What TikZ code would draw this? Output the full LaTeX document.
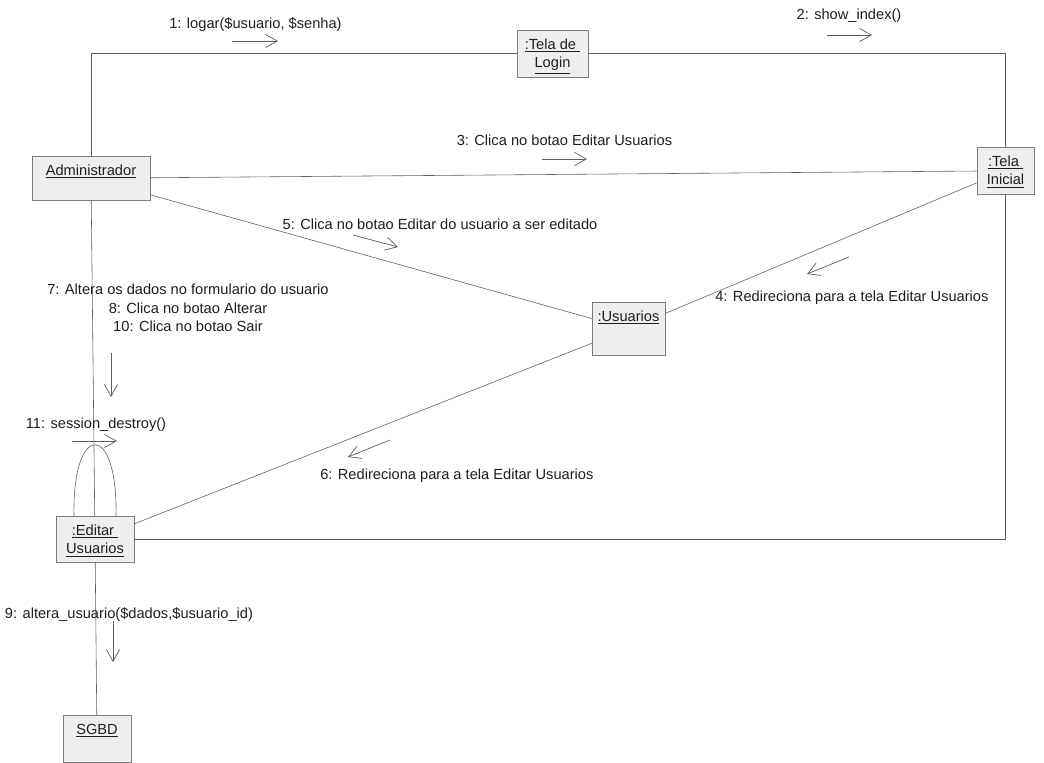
\documentclass[tikz,border=0pt]{standalone}
\usepackage{fontspec}
\setmainfont{Liberation Sans}
\usetikzlibrary{arrows.meta,calc}
\definecolor{ink}{RGB}{30,30,30}
\definecolor{soft}{RGB}{238,238,238}
\definecolor{edge}{RGB}{125,125,125}
\definecolor{wire}{RGB}{95,95,95}
\tikzset{
  obj/.style={draw=edge,fill=soft,anchor=north,inner xsep=0pt,inner ysep=3pt,
    text height=10pt,font=\fontsize{10}{12.6}\selectfont,text=ink},
  lbl/.style={inner sep=0pt,anchor=base,font=\fontsize{10}{12.6}\selectfont,text=ink},
  link/.style={draw=wire,line width=0.4pt},
  msg/.style={-{Straight Barb[length=8pt,width=9pt]},wire,line width=0.5pt},
}
\newcommand{\objn}[1]{\underline{#1}}
\newcommand{\twoln}[2]{\begin{tabular}[t]{@{}c@{}}\objn{#1}\\\objn{#2}\end{tabular}}

\begin{document}
\begin{tikzpicture}[x=0.024cm,y=-0.024cm]
  \useasboundingbox (0,0) rectangle (1044,763);

  % objects
  \node[obj,minimum width=2.83cm,text depth=14pt] (adm) at (91,156) {\objn{Administrador}};
  \node[obj,minimum width=1.70cm,text depth=16.1pt] (login) at (552.5,30) {\twoln{:Tela de\ }{Login}};
  \node[obj,minimum width=1.37cm,text depth=16.1pt] (inicial) at (1005.5,147) {\twoln{:Tela\ }{Inicial}};
  \node[obj,minimum width=1.75cm,text depth=20.2pt] (usr) at (628.5,302) {\objn{:Usuarios}};
  \node[obj,minimum width=1.87cm,text depth=15.4pt] (edit) at (95,516) {\twoln{:Editar\ }{Usuarios}};
  \node[obj,minimum width=1.63cm,text depth=16.1pt] (sgbd) at (97,715) {\objn{SGBD}};

  % links
  \draw[link] (adm) |- (login);
  \draw[link] (login) -| (inicial);
  \draw[link] (adm) -- (inicial);
  \draw[link] (adm) -- (usr);
  \draw[link] (usr) -- (inicial);
  \draw[link] (usr) -- (edit);
  \draw[link] (edit) -| (inicial);
  \draw[link] (adm) -- (edit);
  \draw[link] (edit) -- (sgbd);
  \draw[link] ($(edit.north)+(-21,0)$) .. controls +(-2,-95) and +(2,-95) .. ($(edit.north)+(21,0)$);

  % messages
  \node[lbl] (l1) at (255.5,29) {1: logar(\$usuario, \$senha)};
  \node[lbl] (l2) at (849,20) {2: show\_index()};
  \node[lbl] (l3) at (564.5,146) {3: Clica no botao Editar Usuarios};
  \node[lbl,anchor=base west] (l4) at (715,302) {4: Redireciona para a tela Editar Usuarios};
  \node[lbl] (l5) at (440,230) {5: Clica no botao Editar do usuario a ser editado};
  \node[lbl,anchor=base west] (l6) at (320,480) {6: Redireciona para a tela Editar Usuarios};
  \node[lbl] (l7) at (188,295) {\begin{tabular}[t]{@{}c@{}}7: Altera os dados no formulario do usuario\\
    8: Clica no botao Alterar\\10: Clica no botao Sair\end{tabular}};
  \node[lbl] (l9) at (129,618) {9: altera\_usuario(\$dados,\$usuario\_id)};
  \node[lbl] (l11) at (96,429) {11: session\_destroy()};

  \draw[msg] ($(l1.base)+(-23.5,12)$) -- ++(46,0);
  \draw[msg] ($(l2.base)+(-22,15)$) -- ++(45,0);
  \draw[msg] ($(l3.base)+(-22.5,13)$) -- ++(45,0);
  \draw[msg] ($(l4.base west)+(134,-45)$) -- ++(-42,17);
  \draw[msg] ($(l5.base)+(-87,5)$) -- ++(45,12);
  \draw[msg] ($(l6.base west)+(70,-40)$) -- ++(-42,17);
  \draw[msg] ($(l7.base)+(-77,58)$) -- ++(0,44);
  \draw[msg] ($(l9.base)+(-16,3)$) -- ++(0,41);
  \draw[msg] ($(l11.base)+(-24,12)$) -- ++(45,0);
\end{tikzpicture}
\end{document}
